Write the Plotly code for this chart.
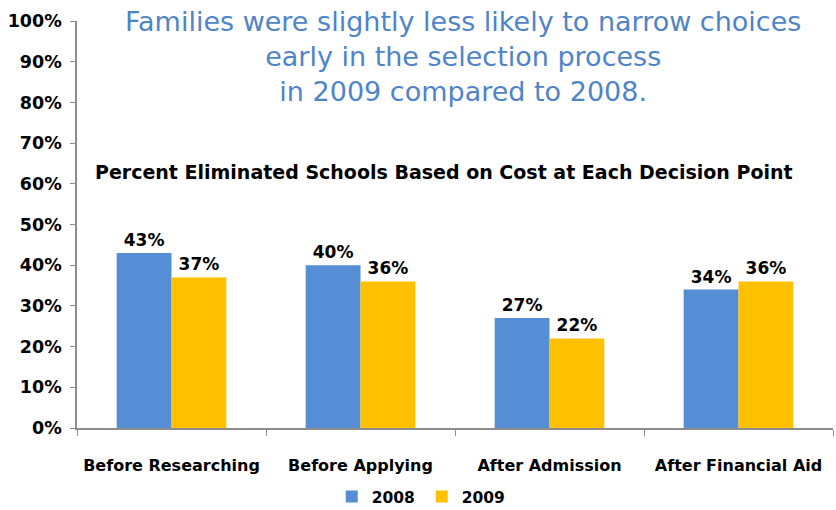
import plotly.graph_objects as go

categories = ["Before Researching", "Before Applying", "After Admission", "After Financial Aid"]
values_2008 = [43, 40, 27, 34]
values_2009 = [37, 36, 22, 36]
y_ticks = [0, 10, 20, 30, 40, 50, 60, 70, 80, 90, 100]

font_main = "Verdana, DejaVu Sans, sans-serif"
blue = "#558ED5"
yellow = "#FFC000"
axis_grey = "#8C8C8C"

fig = go.Figure()
for name, vals, col in [("2008", values_2008, blue), ("2009", values_2009, yellow)]:
    fig.add_trace(go.Bar(
        x=categories, y=vals, name=f"<b>{name}</b>", marker_color=col, marker_line_width=0,
        text=[f"<b>{v}%</b>" for v in vals], textposition="outside",
        textfont=dict(size=17, color="black", family=font_main),
        cliponaxis=False,
    ))

fig.update_layout(
    width=836, height=510,
    margin=dict(l=77, r=3, t=21, b=82),
    plot_bgcolor="white", paper_bgcolor="white",
    barmode="group", bargap=0.42, bargroupgap=0,
    font=dict(family=font_main, color="black"),
    showlegend=True,
    legend=dict(orientation="h", x=0.456, xanchor="center",
                yref="container", y=1 - 497 / 510, yanchor="middle",
                font=dict(size=15.5, family=font_main), itemwidth=30,
                entrywidth=45, entrywidthmode="pixels",
                traceorder="normal", tracegroupgap=0),
    xaxis=dict(showline=True, linecolor=axis_grey, linewidth=1.5, automargin=False,
               ticks="outside", tickcolor=axis_grey, ticklen=6,
               tickson="boundaries", ticklabelstandoff=22,
               tickvals=categories, ticktext=[f"<b>{c}</b>" for c in categories],
               tickfont=dict(size=16, family=font_main)),
    yaxis=dict(range=[0, 100], tickvals=y_ticks, ticktext=[f"<b>{t}%</b>" for t in y_ticks],
               showgrid=False, zeroline=False, showline=True, linecolor=axis_grey, linewidth=1.5,
               automargin=False, ticks="outside", tickcolor=axis_grey, ticklen=5,
               ticklabelstandoff=5, tickfont=dict(size=17.5, family=font_main)),
)

pw, ph = 836 - 77 - 3, 510 - 21 - 82


def px(x, y):
    return (x - 77) / pw, 1 - (y - 21) / ph


tx, ty = px(463, 57)
fig.add_annotation(
    text="Families were slightly less likely to narrow choices<br>early in the selection process<br>in 2009 compared to 2008.",
    x=tx, y=ty, xref="paper", yref="paper", showarrow=False, xanchor="center", yanchor="middle",
    font=dict(size=27, color="#4F84C8", family=font_main), align="center",
)
sx, sy = px(444, 172)
fig.add_annotation(
    text="<b>Percent Eliminated Schools Based on Cost at Each Decision Point</b>",
    x=sx, y=sy, xref="paper", yref="paper", showarrow=False, xanchor="center", yanchor="middle",
    font=dict(size=19, color="black", family=font_main),
)

fig.write_html("out.html", config={"displayModeBar": False},
               post_script="document.body.style.margin='0';")
